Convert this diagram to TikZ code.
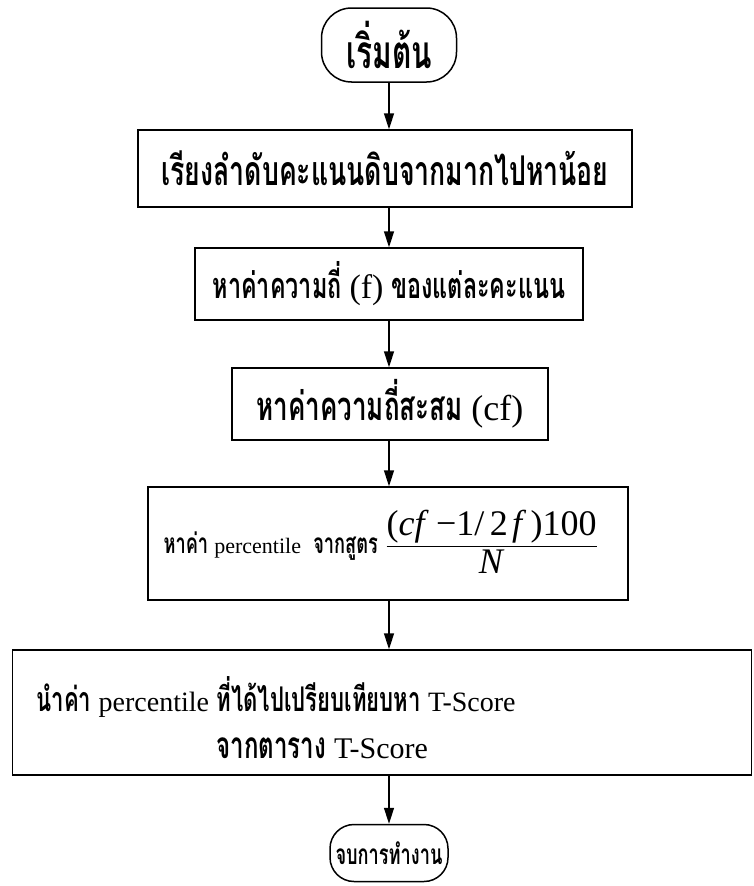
\documentclass[tikz,border=0pt]{standalone}
\usepackage{amsmath}
\usepackage{fontspec}
\setmainfont{Liberation Serif}
\newfontfamily\thai[Script=Thai,FakeStretch=0.65]{Loma}
\usetikzlibrary{arrows.meta}
\begin{document}
\begin{tikzpicture}[x=1pt,y=-1pt,
  box/.style={draw, line width=1.5pt, inner sep=0pt},
  term/.style={draw, line width=1.5pt, inner sep=0pt},
  arr/.style={line width=1.5pt, -{Triangle[length=16pt,width=10pt]}},
  th/.style={font=\thai\bfseries\fontsize{#1}{#1}\selectfont}]
\newcommand\lt[2]{{\rmfamily\mdseries\fontsize{#1}{#1}\selectfont #2}}
\useasboundingbox (0,0) rectangle (753,886);
\node[term, rounded corners=30pt, minimum width=135pt, minimum height=74pt, th=46] (start) at (389,45) {เริ่มต้น};
\node[box, minimum width=494pt, minimum height=77pt, th=41] (b1) at (385,168.5) {เรียงลำดับคะแนนดิบจากมากไปหาน้อย};
\node[box, minimum width=388pt, minimum height=72pt, th=36] (b2) at (389,284) {หาค่าความถี่ \lt{34}{(f)} ของแต่ละคะแนน};
\node[box, minimum width=316pt, minimum height=72pt, th=40] (b3) at (390,404) {หาค่าความถี่สะสม \lt{36}{(cf)}};
\node[box, minimum width=480pt, minimum height=113pt] (b4) at (388,543.5) {};
\node[anchor=west, th=28] (t4) at (160,546) {หาค่า \lt{22}{percentile}\ \ จากสูตร};
\node[anchor=west, font=\fontsize{36}{38}\selectfont] (f4) at (382,542) {$\dfrac{\mbox{(\textit{cf}\hspace{0.2em}−1/\hspace{0.15em}2\hspace{0.12em}\textit{f}\hspace{0.12em})100}}{\mbox{\textit{N}}}$};
\node[box, minimum width=739pt, minimum height=125pt] (b5) at (382,712.5) {};
\node[anchor=west, th=34] (t5a) at (33,697) {นำค่า \lt{28}{percentile} ที่ได้ไปเปรียบเทียบหา \lt{28}{T-Score}};
\node[anchor=west, th=37] (t5b) at (213,748) {จากตาราง \lt{30}{T-Score}};
\node[term, rounded corners=24pt, minimum width=118pt, minimum height=57pt, th=28] (end) at (389,853) {จบการทำงาน};
\draw[arr] (start.south) -- (start.south |- b1.north);
\draw[arr] (start.south |- b1.south) -- (start.south |- b2.north);
\draw[arr] (start.south |- b2.south) -- (start.south |- b3.north);
\draw[arr] (start.south |- b3.south) -- (start.south |- b4.north);
\draw[arr] (start.south |- b4.south) -- (start.south |- b5.north);
\draw[arr] (start.south |- b5.south) -- (end.north);
\end{tikzpicture}
\end{document}
